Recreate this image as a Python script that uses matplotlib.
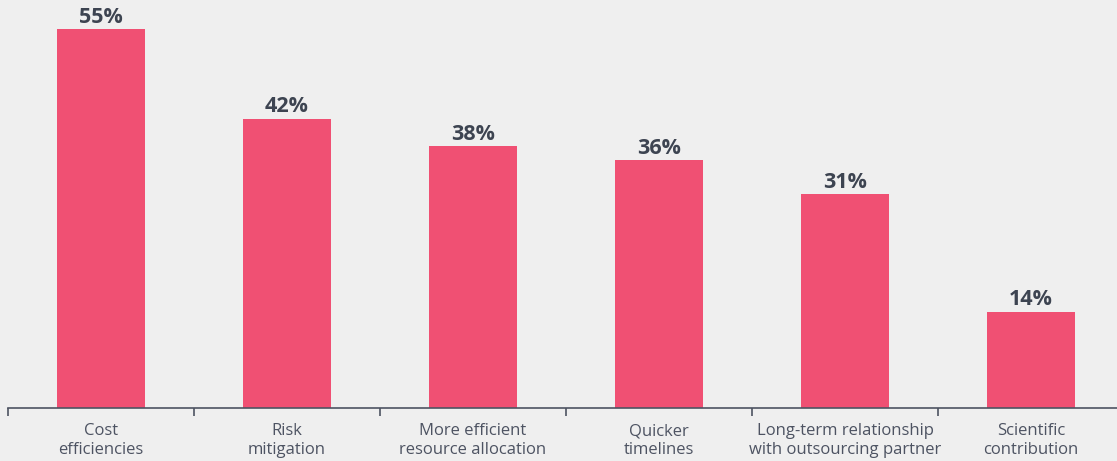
import numpy as np
import matplotlib.pyplot as plt
from matplotlib.ticker import FixedLocator

categories = ['Cost\nefficiencies', 'Risk\nmitigation', 'More efficient\nresource allocation',
              'Quicker\ntimelines', 'Long-term relationship\nwith outsourcing partner',
              'Scientific\ncontribution']
values = [55, 42, 38, 36, 31, 14]
value_labels = ['55%', '42%', '38%', '36%', '31%', '14%']

bg = '#efefef'
bar_color = '#f05073'
text_dark = '#3d4451'
text_gray = '#4d5362'

plt.rcParams['font.family'] = ['Open Sans', 'DejaVu Sans']

fig = plt.figure(figsize=(11.17, 4.61), dpi=100, facecolor=bg)
# axes runs a bit past the right edge, like the original
ax = fig.add_axes([8 / 1117, 53 / 461, 1116 / 1117, 408 / 461])
ax.set_facecolor(bg)

x = np.arange(len(values))
ax.bar(x, values, width=0.473, color=bar_color)
for xi, v, lab in zip(x, values, value_labels):
    ax.annotate(lab, (xi, v), xytext=(0, 4.5), textcoords='offset points',
                ha='center', va='baseline', fontsize=15.5, fontweight='bold', color=text_dark)

ax.set_xlim(-0.5, len(values) - 0.5)
ax.set_ylim(0, 59.2)

for s in ['top', 'right', 'left']:
    ax.spines[s].set_visible(False)
ax.spines['bottom'].set_color(text_gray)
ax.spines['bottom'].set_linewidth(1.2)
ax.set_yticks([])

# separators between categories as major ticks, labels on minor ticks
ax.xaxis.set_major_locator(FixedLocator(np.arange(len(values) + 1) - 0.5))
ax.xaxis.set_major_formatter(plt.NullFormatter())
ax.tick_params(axis='x', which='major', length=6, width=1.2, color=text_gray)
ax.xaxis.set_minor_locator(FixedLocator(x))
ax.set_xticklabels(categories, minor=True, fontsize=12, color=text_gray, linespacing=1.25)
ax.tick_params(axis='x', which='minor', length=0, pad=11)

fig.savefig('out.png', dpi=100, facecolor=bg)
